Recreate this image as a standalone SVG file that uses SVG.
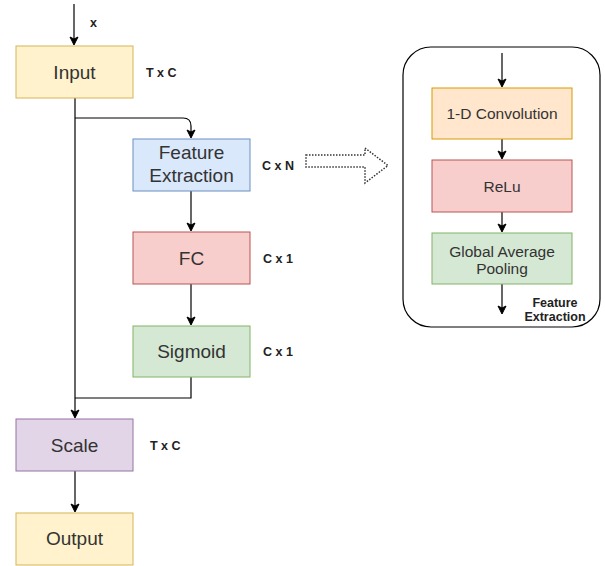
<svg xmlns="http://www.w3.org/2000/svg" width="605" height="566" viewBox="0 0 605 566">
<defs>
<marker id="ah" markerWidth="10" markerHeight="10" refX="8" refY="5" orient="auto" markerUnits="userSpaceOnUse">
<path d="M1,1 L9,5 L1,9 L3,5 Z" fill="#000" stroke="#000" stroke-width="1"/>
</marker>
<style>
.lbl{font-family:"Liberation Sans",Arial,sans-serif;font-size:19px;fill:#333;text-anchor:middle}
.sm{font-family:"Liberation Sans",Arial,sans-serif;font-size:15.5px;fill:#333;text-anchor:middle}
.dim{font-family:"Liberation Sans",Arial,sans-serif;font-size:12.5px;font-weight:bold;fill:#222}
.con{fill:none;stroke:#000;stroke-width:1.2}
</style>
</defs>
<rect width="605" height="566" fill="#fff"/>
<g id="connectors">
<path class="con" d="M74,4 V44" marker-end="url(#ah)"/>
<path class="con" d="M75,98 V417" marker-end="url(#ah)"/>
<path class="con" d="M75,118 H183 Q191,118 191,126 V137" marker-end="url(#ah)"/>
<path class="con" d="M191,191 V230" marker-end="url(#ah)"/>
<path class="con" d="M191,284 V324" marker-end="url(#ah)"/>
<path class="con" d="M191,377 V398 H75"/>
<path class="con" d="M75,471 V511" marker-end="url(#ah)"/>
<path d="M306,155 H365 V148 L388,165.5 L365,183 V167 H306 Z" fill="none" stroke="#333" stroke-width="1.5" stroke-dasharray="1.5,1.5"/>
</g>
<text x="90" y="27" class="dim" font-size="13">x</text>
<g id="input"><rect x="16" y="46" width="117" height="52" fill="#fff2cc" stroke="#d6b656"/><text x="74.5" y="79" class="lbl">Input</text></g>
<text x="146" y="77" class="dim">T x C</text>
<g id="feature"><rect x="133" y="139" width="117" height="52" fill="#dae8fc" stroke="#6c8ebf"/><text x="191.5" y="159" class="lbl">Feature</text><text x="191.5" y="182" class="lbl">Extraction</text></g>
<text x="262" y="170" class="dim">C x N</text>
<g id="fc"><rect x="133" y="232" width="117" height="52" fill="#f8cecc" stroke="#b85450"/><text x="191.5" y="265" class="lbl">FC</text></g>
<text x="263" y="263" class="dim">C x 1</text>
<g id="sigmoid"><rect x="133" y="326" width="117" height="51" fill="#d5e8d4" stroke="#82b366"/><text x="191.5" y="358" class="lbl">Sigmoid</text></g>
<text x="263" y="356" class="dim">C x 1</text>
<g id="scale"><rect x="16" y="419" width="117" height="52" fill="#e1d5e7" stroke="#9673a6"/><text x="74.5" y="452" class="lbl">Scale</text></g>
<text x="150" y="450" class="dim">T x C</text>
<g id="output"><rect x="16" y="513" width="117" height="52" fill="#fff2cc" stroke="#d6b656"/><text x="74.5" y="545" class="lbl">Output</text></g>
<g id="panel">
<rect x="403" y="47" width="197" height="280" rx="28" ry="28" fill="#fff" stroke="#000" stroke-width="1.2"/>
<path class="con" d="M502,53 V86" marker-end="url(#ah)"/>
<path class="con" d="M502,139 V158" marker-end="url(#ah)"/>
<path class="con" d="M502,212 V231" marker-end="url(#ah)"/>
<path class="con" d="M502,284 V313" marker-end="url(#ah)"/>
<g id="conv"><rect x="432" y="88" width="140" height="51" fill="#ffe6cc" stroke="#d79b00"/><text x="502" y="119" class="sm">1-D Convolution</text></g>
<g id="relu"><rect x="432" y="160" width="140" height="52" fill="#f8cecc" stroke="#b85450"/><text x="502" y="192" class="sm">ReLu</text></g>
<g id="gap"><rect x="432" y="233" width="140" height="51" fill="#d5e8d4" stroke="#82b366"/><text x="502" y="257" class="sm">Global Average</text><text x="502" y="274" class="sm">Pooling</text></g>
<text x="555" y="307" class="dim" font-size="12" text-anchor="middle">Feature</text>
<text x="555" y="321" class="dim" font-size="12" text-anchor="middle">Extraction</text>
</g>
</svg>
